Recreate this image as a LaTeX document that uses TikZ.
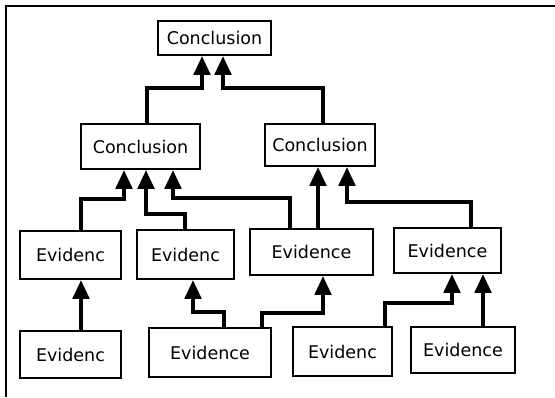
\documentclass[tikz,border=0pt]{standalone}
\usepackage{fontspec}
\setmainfont{DejaVu Sans}
\usetikzlibrary{arrows.meta}
\tikzset{
  box/.style={draw, line width=1.6pt, inner sep=0pt, font=\fontsize{17.5}{19}\selectfont},
  arr/.style={line width=4.6pt, -{Triangle[width=16pt,length=19pt]}},
}
\begin{document}
\begin{tikzpicture}[x=1pt, y=-1pt]
  \useasboundingbox (0,0) rectangle (555,397);
  % frame along the top and left edges
  \draw[line width=2pt] (6,397) -- (6,6) -- (555,6);

  % conclusions
  \node[box, minimum width=113pt, minimum height=34pt] (C0) at (214.5,38) {Conclusion};
  \node[box, minimum width=119pt, minimum height=45pt] (C1) at (140.5,146.5) {Conclusion};
  \node[box, minimum width=110pt, minimum height=42pt] (C2) at (320,145) {Conclusion};

  % evidence, middle row
  \node[box, minimum width=101pt, minimum height=48pt] (E1) at (70.5,255) {Evidenc};
  \node[box, minimum width=97pt,  minimum height=49pt] (E2) at (185.5,254.5) {Evidenc};
  \node[box, minimum width=123pt, minimum height=46pt] (E3) at (311.5,252) {Evidence\hspace{18pt}};
  \node[box, minimum width=107pt, minimum height=45pt] (E4) at (447.5,250.5) {Evidence};

  % evidence, bottom row
  \node[box, minimum width=101pt, minimum height=47pt] (F1) at (70.5,354.5) {Evidenc};
  \node[box, minimum width=122pt, minimum height=49pt] (F2) at (210,352.5) {Evidence\hspace{14pt}};
  \node[box, minimum width=99pt,  minimum height=49pt] (F3) at (342.5,351.5) {Evidenc};
  \node[box, minimum width=104pt, minimum height=46pt] (F4) at (463,350) {Evidence};

  % support arrows into the top conclusion
  \draw[arr] (147,0 |- C1.north) |- (202,88) -- (202,0 |- C0.south);
  \draw[arr] (323,0 |- C2.north) |- (223,88) -- (223,0 |- C0.south);

  % support arrows into the middle conclusions
  \draw[arr] (81,0 |- E1.north) |- (124,199) -- (124,0 |- C1.south);
  \draw[arr] (185,0 |- E2.north) |- (146,214) -- (146,0 |- C1.south);
  \draw[arr] (290,0 |- E3.north) |- (173,198) -- (173,0 |- C1.south);
  \draw[arr] (318,0 |- E3.north) -- (318,0 |- C2.south);
  \draw[arr] (471,0 |- E4.north) |- (347,202) -- (347,0 |- C2.south);

  % support arrows into the middle evidence
  \draw[arr] (81,0 |- F1.north) -- (81,0 |- E1.south);
  \draw[arr] (224,0 |- F2.north) |- (193,312) -- (193,0 |- E2.south);
  \draw[arr] (262,0 |- F2.north) |- (323,313) -- (323,0 |- E3.south);
  \draw[arr] (385,0 |- F3.north) |- (452,303) -- (452,0 |- E4.south);
  \draw[arr] (483,0 |- F4.north) -- (483,0 |- E4.south);
\end{tikzpicture}
\end{document}
